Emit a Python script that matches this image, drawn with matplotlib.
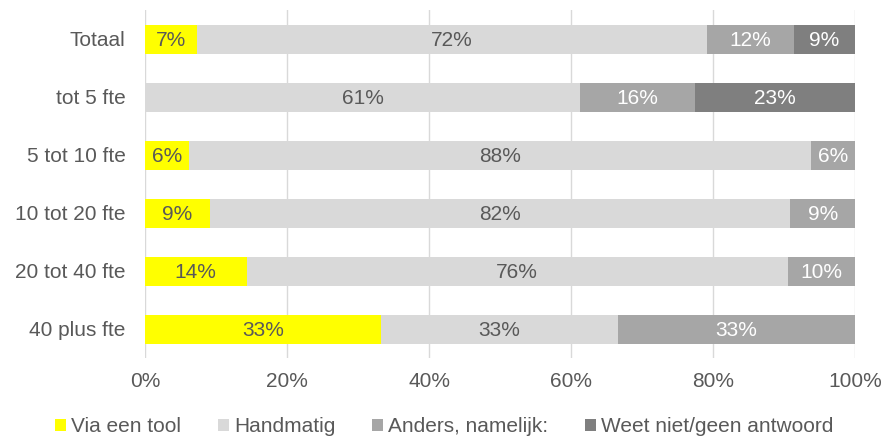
import numpy as np
import matplotlib.pyplot as plt

plt.rcParams['font.family'] = ['Liberation Sans', 'DejaVu Sans']

categories = ['Totaal', 'tot 5 fte', '5 tot 10 fte', '10 tot 20 fte', '20 tot 40 fte', '40 plus fte']
series = ['Via een tool', 'Handmatig', 'Anders, namelijk:', 'Weet niet/geen antwoord']
via_tool = [7.3, 0, 6.2, 9.1, 14.3, 33.3]
handmatig = [71.9, 61.3, 87.6, 81.8, 76.2, 33.3]
anders = [12.2, 16.1, 6.2, 9.1, 9.5, 33.4]
weet_niet = [8.6, 22.6, 0, 0, 0, 0]

colors = ['#FFFF00', '#D9D9D9', '#A6A6A6', '#7F7F7F']
text_colors = ['#595959', '#595959', 'white', 'white']
fs = 15

fig = plt.figure(figsize=(8.88, 4.41), dpi=100)
ax = fig.add_axes([145 / 888, 1 - 358 / 441, 710 / 888, 348 / 441])

y = np.arange(len(categories))
left = np.zeros(len(categories))
for vals, name, col, tcol in zip([via_tool, handmatig, anders, weet_niet], series, colors, text_colors):
    vals = np.array(vals)
    ax.barh(y, vals, left=left, height=0.5, color=col, label=name, zorder=2)
    for yi, v, l in zip(y, vals, left):
        if v > 0:
            ax.text(l + v / 2, yi, f'{int(v + 0.5)}%', ha='center', va='center_baseline',
                    color=tcol, fontsize=fs, zorder=3)
    left += vals

ax.set_xlim(0, 100)
ax.set_ylim(len(categories) - 0.5, -0.5)
ax.set_yticks(y)
ax.set_yticklabels(categories)
ax.set_xticks(np.arange(0, 101, 20))
ax.set_xticklabels([f'{t}%' for t in range(0, 101, 20)])
ax.tick_params(length=0, labelsize=fs, colors='#595959')
ax.tick_params(axis='y', pad=14)
ax.tick_params(axis='x', pad=10)
ax.grid(axis='x', color='#D9D9D9', linewidth=1, zorder=0)
for s in ax.spines.values():
    s.set_visible(False)

fig.legend(loc='center', bbox_to_anchor=(0.5, 1 - 427 / 441), ncol=4, frameon=False,
           fontsize=fs, labelcolor='#595959', handlelength=0.53, handleheight=0.53,
           handletextpad=0.25, columnspacing=1.75, borderpad=0)

fig.savefig('out.png', dpi=100)
